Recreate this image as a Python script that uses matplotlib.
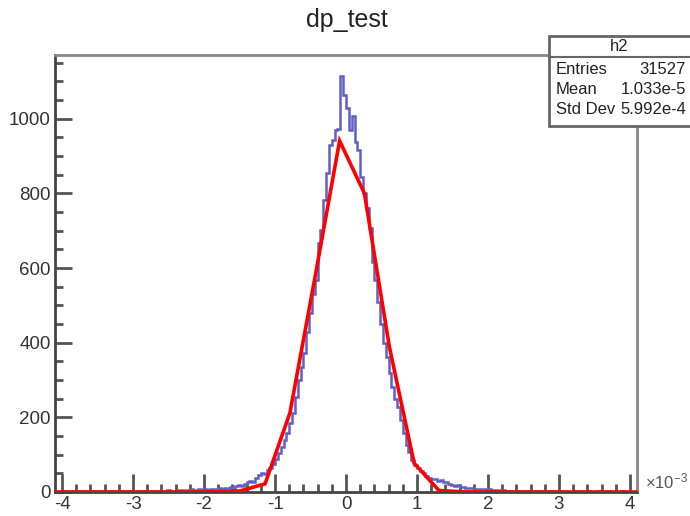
import matplotlib
matplotlib.use('Agg')
import matplotlib.pyplot as plt
import numpy as np
from matplotlib.ticker import MultipleLocator
from matplotlib.patches import Rectangle
from matplotlib.lines import Line2D

plt.rcParams['font.family'] = ['Liberation Sans', 'DejaVu Sans']
plt.rcParams['mathtext.fontset'] = 'custom'
plt.rcParams['mathtext.rm'] = 'Liberation Sans'
plt.rcParams['mathtext.it'] = 'Liberation Sans'
plt.rcParams['axes.unicode_minus'] = False

# ---------------- data ----------------
title = "dp_test"
hist_name = "h2"
x_min, x_max = -4.0, 4.0          # histogram range (x 10^-3)
n_bins = 200

counts = [
    # -4.00 .. -2.40
    1, 2, 0, 1, 2, 1, 3, 1, 2, 2, 1, 2, 3, 1, 2, 2, 3, 2, 1, 3,
    2, 2, 3, 2, 4, 2, 3, 3, 2, 4, 3, 2, 4, 3, 3, 4, 3, 5, 4, 3,
    # -2.40 .. -1.80
    4, 5, 6, 4, 5, 7, 5, 6, 8, 6, 7, 6, 9, 7, 8,
    # -1.80 .. -1.40
    10, 9, 12, 11, 14, 12, 16, 18, 17, 22,
    # -1.40 .. -1.00
    26, 30, 28, 38, 45, 52, 48, 60, 64, 75,
    # -1.00 .. -0.60
    88, 104, 120, 140, 158, 185, 211, 255, 300, 335,
    # -0.60 .. -0.20
    372, 430, 480, 530, 568, 667, 702, 783, 855, 930,
    # -0.20 .. 0.20
    943, 970, 972, 1116, 1064, 1029, 970, 1008, 939, 917,
    # 0.20 .. 0.60
    845, 801, 761, 707, 617, 568, 510, 450, 400, 362,
    # 0.60 .. 1.00
    319, 282, 250, 229, 193, 158, 125, 108, 86, 72,
    # 1.00 .. 1.40
    64, 56, 50, 44, 37, 34, 36, 30, 32, 27,
    # 1.40 .. 1.80
    28, 21, 19, 16, 18, 14, 13, 12, 11, 10,
    # 1.80 .. 2.40
    9, 8, 7, 8, 6, 7, 5, 6, 5, 4, 5, 4, 3, 4, 3,
    # 2.40 .. 4.00
    3, 2, 3, 2, 3, 1, 2, 2, 3, 1, 2, 1, 2, 2, 1, 3, 1, 2, 1, 1,
    2, 1, 2, 0, 1, 2, 1, 1, 2, 1, 0, 1, 2, 1, 1, 0, 1, 2, 1, 1,
]

fit_x = [-4.1, -2.19, -1.84, -1.49, -1.14, -0.79, -0.44, -0.09, 0.26, 0.61, 0.96, 1.31, 1.66, 2.01, 4.1]
fit_y = [0, 0, 0.3, 3, 22, 212, 572, 941, 800, 390, 77, 4, 0.3, 0, 0]

stat_labels = ["Entries", "Mean", "Std Dev"]
stat_values = ["31527", "1.033e-5", "5.992e-4"]

x_ticks = [-4, -3, -2, -1, 0, 1, 2, 3, 4]
y_ticks = [0, 200, 400, 600, 800, 1000]

# ---------------- figure ----------------
W, H = 690, 516
fig = plt.figure(figsize=(W / 100, H / 100), dpi=100)
L, R, T, B = 55, 637, 55, 492
ax = fig.add_axes([L / W, 1 - B / H, (R - L) / W, (B - T) / H])

edges = np.linspace(x_min, x_max, n_bins + 1)
ax.stairs(counts, edges, color='#5f5fc6', lw=1.8, zorder=2)
ax.plot(fit_x, fit_y, color='#ff0000', lw=2.6, zorder=3, solid_joinstyle='miter')

ax.set_xlim(-4.1, 4.1)
ax.set_ylim(0, 1171)

ax.set_xticks(x_ticks)
ax.set_yticks(y_ticks)
ax.xaxis.set_minor_locator(MultipleLocator(0.2))
ax.yaxis.set_minor_locator(MultipleLocator(50))

ax.tick_params(which='both', direction='in', top=False, right=False,
               color='#555555', labelcolor='#333333', labelsize=13.5, width=2)
ax.tick_params(which='major', length=12, pad=3)
ax.tick_params(which='minor', length=6)
ax.tick_params(axis='x', which='major', length=13)

for s in ['left', 'bottom']:
    ax.spines[s].set_color('#444444')
    ax.spines[s].set_linewidth(2)
for s in ['top', 'right']:
    ax.spines[s].set_color('#888888')
    ax.spines[s].set_linewidth(2)

fig.text(347 / W, 1 - 20 / H, title, ha='center', va='center', fontsize=18, color='#222222')

# x10^-3 label
fig.text(645 / W, 1 - 481 / H, r'$\times$10$^{-3}$', ha='left', va='center',
         fontsize=12, color='#555555')

# stats box
bx0, bx1, by0, by1, hy = 549, 693, 36, 126, 57
fig.patches.append(Rectangle((bx0 / W, 1 - by1 / H), (bx1 - bx0) / W, (by1 - by0) / H,
                             transform=fig.transFigure, facecolor='white',
                             edgecolor='#666666', lw=2, zorder=5))
fig.lines.append(Line2D([bx0 / W, bx1 / W], [1 - hy / H, 1 - hy / H],
                        transform=fig.transFigure, color='#666666', lw=1.5, zorder=6))
fig.text((bx0 + 690) / 2 / W, 1 - 47 / H, hist_name, ha='center', va='center',
         fontsize=12, color='#222222', zorder=7)
row_y = [69, 90, 110]
for lab, val, yy in zip(stat_labels, stat_values, row_y):
    fig.text(556 / W, 1 - yy / H, lab, ha='left', va='center', fontsize=12,
             color='#222222', zorder=7)
    fig.text(686 / W, 1 - yy / H, val, ha='right', va='center', fontsize=12,
             color='#222222', zorder=7)

fig.savefig('out.png', dpi=100)
